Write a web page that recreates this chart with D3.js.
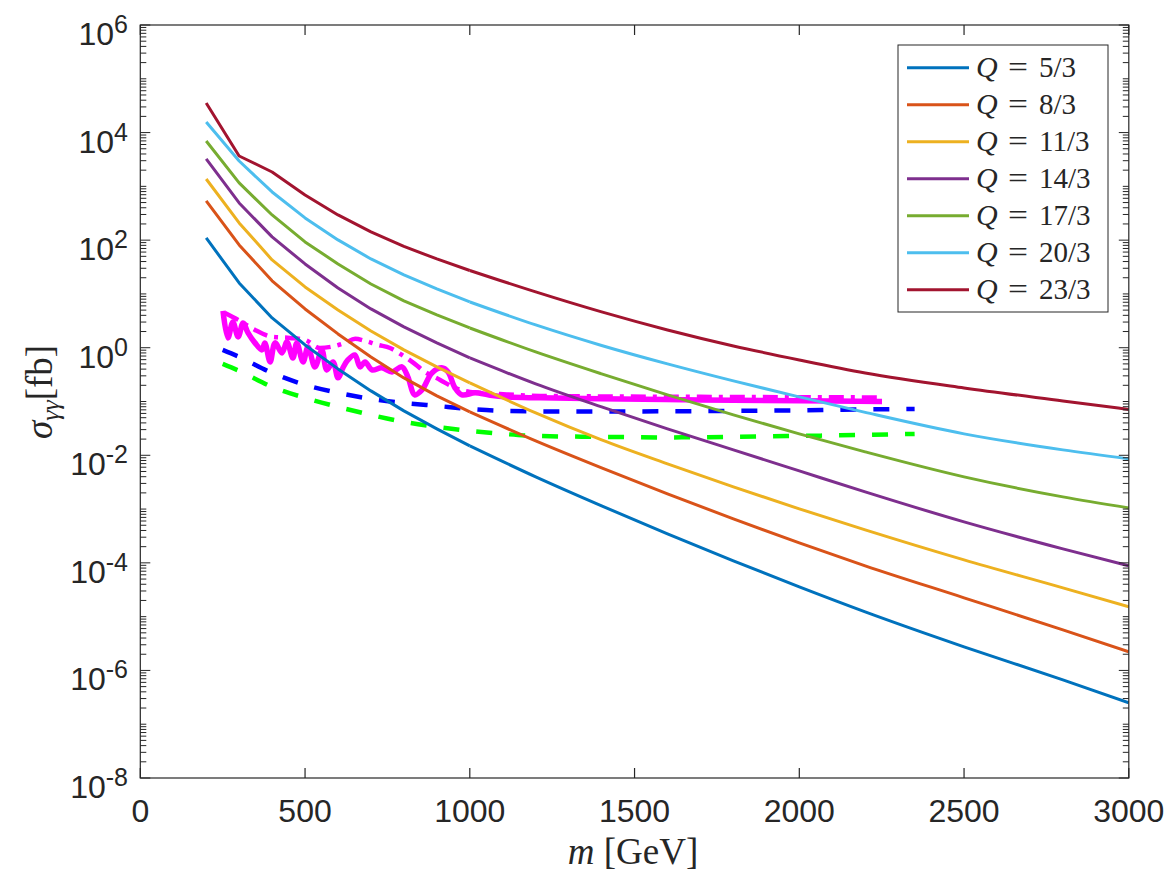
<!DOCTYPE html>
<html><head><meta charset="utf-8">
<script src="https://cdn.jsdelivr.net/npm/d3@7"></script>
<style>body{margin:0;background:#fff}</style>
</head><body>
<svg id="chart" width="1167" height="875"></svg>
<script>
// ---------- data ----------
const massGrid = [200,300,400,500,600,700,800,900,1000,1200,1400,1600,1800,2000,2200,2500,2800,3000];
const chargeLabels = ["5/3","8/3","11/3","14/3","17/3","20/3","23/3"];
const seriesColors = ["#0072BD","#D95319","#EDB120","#7E2F8E","#77AC30","#4DBEEE","#A2142F"];
const sigmaQ5  = [110,16.0,3.58,1.127,0.404,0.1574,0.0669,0.0310,0.01495,3.97e-3,1.147e-3,3.46e-4,1.090e-4,3.58e-5,1.228e-5,2.75e-6,6.69e-7,2.50e-7];
const sigmaQ8  = [536,81.5,17.5,5.26,1.805,0.675,0.2747,0.1271,0.0641,0.01852,5.83e-3,1.917e-3,6.57e-4,2.35e-4,8.80e-5,2.24e-5,5.68e-6,2.22e-6];
const sigmaQ11 = [1370,209,42.9,13.5,5.04,2.05,0.910,0.440,0.2217,0.0614,0.0193,6.92e-3,2.586e-3,1.009e-3,4.11e-4,1.137e-4,3.43e-5,1.52e-5];
const sigmaQ14 = [3230,491,115,36.1,12.9,5.26,2.44,1.23,0.646,0.2124,0.0793,0.0310,0.0126,5.13e-3,2.09e-3,5.78e-4,1.82e-4,8.80e-5];
const sigmaQ17 = [6980,1160,294,92.7,36.1,15.3,7.41,4.07,2.33,0.835,0.326,0.1327,0.0563,0.0250,0.01157,3.97e-3,1.686e-3,1.053e-3];
const sigmaQ20 = [15700,2960,787,259,101,44.7,22.6,12.4,7.10,2.65,1.10,0.500,0.2415,0.1218,0.0627,0.0250,0.0126,8.57e-3];
const sigmaQ23 = [35500,3670,1850,692,294,142,76.4,44.7,27.3,10.9,4.63,2.14,1.08,0.593,0.340,0.179,0.1026,0.0713];

const blueDashMass = [250,300,400,500,600,700,800,900,1000,1100,1200,1500,1800,2000,2200,2350];
const blueDashSigma = [0.910,0.675,0.340,0.204,0.145,0.112,0.0942,0.0828,0.0728,0.0668,0.0655,0.0655,0.0668,0.0684,0.0713,0.0728];
const greenDashMass = [250,300,400,500,600,700,800,900,1000,1100,1200,1400,1600,1800,2000,2200,2350];
const greenDashSigma = [0.500,0.371,0.187,0.117,0.0794,0.0564,0.0418,0.0337,0.0284,0.0250,0.0229,0.0220,0.0215,0.0220,0.0229,0.0239,0.0250];
const magDashDotMass = [257,297,348,400,454,500,545,591,621,652,682,721,758,794,825,864,910,955,1000,1091,1213,1699,2251];
const magDashDotSigma = [4.43,3.29,2.14,1.59,1.52,1.40,0.99,1.08,1.23,1.46,1.34,1.13,0.99,0.735,0.545,0.355,0.252,0.179,0.151,0.138,0.127,0.122,0.119];
const magSolidMass = [251,266,281,297,312,327,348,369,378,394,409,430,445,463,475,494,509,530,551,566,585,600,615,630,651,667,682,703,733,764,794,812,833,855,885,915,934,955,976,1016,1055,1107,1213,1395,1699,2002,2251];
const magSolidSigma = [4.83,1.52,3.02,1.59,2.89,1.88,1.23,0.91,1.23,0.545,1.23,0.80,1.28,0.646,1.23,0.545,1.03,0.44,0.91,0.386,0.545,0.275,0.422,0.593,0.735,0.44,0.545,0.386,0.422,0.355,0.44,0.287,0.133,0.164,0.34,0.422,0.355,0.179,0.133,0.145,0.133,0.122,0.117,0.112,0.107,0.103,0.100];

const xTicks = [0,500,1000,1500,2000,2500,3000];
const yTickExponents = [6,4,2,0,-2,-4,-6,-8];

// ---------- layout ----------
const svg = d3.select("#chart");
const L = 140.3, R = 1128.8, T = 25, B = 778;
const x = d3.scaleLinear().domain([0,3000]).range([L,R]);
const y = d3.scaleLog().domain([1e-8,1e6]).range([B,T]);
const axisColor = "#262626";
const sansFont = "'Liberation Sans', Arial, Helvetica, sans-serif";
const serifFont = "'Liberation Serif', 'DejaVu Serif', serif";

svg.append("defs").append("clipPath").attr("id","clip")
  .append("rect").attr("x",L).attr("y",T).attr("width",R-L).attr("height",B-T);

const series = [sigmaQ5,sigmaQ8,sigmaQ11,sigmaQ14,sigmaQ17,sigmaQ20,sigmaQ23];
const lineOf = (curve) => d3.line().x(d=>x(d[0])).y(d=>y(d[1])).curve(curve);
const zip = (a,b) => a.map((v,i)=>[v,b[i]]);

const g = svg.append("g").attr("clip-path","url(#clip)");

// limits
g.append("path").datum(zip(greenDashMass,greenDashSigma))
  .attr("d", lineOf(d3.curveMonotoneX)).attr("fill","none")
  .attr("stroke","#00FF00").attr("stroke-width",4.5).attr("stroke-dasharray","16,17");
g.append("path").datum(zip(blueDashMass,blueDashSigma))
  .attr("d", lineOf(d3.curveMonotoneX)).attr("fill","none")
  .attr("stroke","#0000FF").attr("stroke-width",4.5).attr("stroke-dasharray","16,17");
g.append("path").datum(zip(magDashDotMass,magDashDotSigma))
  .attr("d", lineOf(d3.curveMonotoneX)).attr("fill","none")
  .attr("stroke","#FF00FF").attr("stroke-width",4.5).attr("stroke-dasharray","15,7,4,7");
g.append("path").datum(zip(magSolidMass,magSolidSigma))
  .attr("d", lineOf(d3.curveCatmullRom.alpha(0.5))).attr("fill","none")
  .attr("stroke","#FF00FF").attr("stroke-width",5.5).attr("stroke-linejoin","round");

// cross-section curves: straight segments on the 100 GeV grid, smooth above 1 TeV
series.forEach((s,i)=>{
  const pts = zip(massGrid,s);
  const low = pts.filter(d=>d[0]<=1000), high = pts.filter(d=>d[0]>=1000);
  g.append("path").datum(low).attr("d", lineOf(d3.curveLinear)).attr("fill","none")
    .attr("stroke",seriesColors[i]).attr("stroke-width",3).attr("stroke-linejoin","round");
  g.append("path").datum(high).attr("d", lineOf(d3.curveMonotoneX)).attr("fill","none")
    .attr("stroke",seriesColors[i]).attr("stroke-width",3).attr("stroke-linejoin","round");
});

// ---------- axes ----------
const axG = svg.append("g");
axG.append("rect").attr("x",L).attr("y",T).attr("width",R-L).attr("height",B-T)
  .attr("fill","none").attr("stroke",axisColor).attr("stroke-width",1.2);

xTicks.forEach(t=>{
  axG.append("line").attr("x1",x(t)).attr("x2",x(t)).attr("y1",B).attr("y2",B-10).attr("stroke",axisColor).attr("stroke-width",1.2);
  axG.append("line").attr("x1",x(t)).attr("x2",x(t)).attr("y1",T).attr("y2",T+10).attr("stroke",axisColor).attr("stroke-width",1.2);
  axG.append("text").attr("x",x(t)).attr("y",B+44).attr("text-anchor","middle")
    .attr("font-family",sansFont).attr("font-size",32)
    .attr("fill",axisColor).text(d3.format("d")(t));
});

for (let k=-8;k<=6;k++){
  for (let m=1;m<=9;m++){
    const v = m*Math.pow(10,k);
    if (v>1e6) break;
    const major = (m===1 && k%2===0);
    const len = major?10:6;
    const yy = y(v);
    axG.append("line").attr("x1",L).attr("x2",L+len).attr("y1",yy).attr("y2",yy).attr("stroke",axisColor).attr("stroke-width",1);
    axG.append("line").attr("x1",R).attr("x2",R-len).attr("y1",yy).attr("y2",yy).attr("stroke",axisColor).attr("stroke-width",1);
  }
}
yTickExponents.forEach(e=>{
  const t = axG.append("text").attr("x",128).attr("y",y(Math.pow(10,e))+20)
    .attr("text-anchor","end").attr("font-family",sansFont)
    .attr("font-size",32).attr("fill",axisColor);
  t.append("tspan").text("10");
  t.append("tspan").attr("dy",-12).attr("font-size",25).text(String(e));
});

// axis labels
const xl = svg.append("text").attr("x",633).attr("y",864).attr("text-anchor","middle")
  .attr("font-family",serifFont).attr("font-size",37).attr("fill",axisColor);
xl.append("tspan").attr("font-style","italic").text("m");
xl.append("tspan").text(" [GeV]");

const yl = svg.append("text").attr("transform","translate(52,392) rotate(-90)").attr("text-anchor","middle")
  .attr("font-family",serifFont).attr("font-size",37).attr("fill",axisColor);
yl.append("tspan").attr("font-style","italic").text("σ");
yl.append("tspan").attr("font-style","italic").attr("font-size",26).attr("dy",7).text("γγ");
yl.append("tspan").attr("dy",-7).text("[fb]");

// ---------- legend ----------
const lg = svg.append("g");
lg.append("rect").attr("x",898).attr("y",45).attr("width",210).attr("height",267)
  .attr("fill","#fff").attr("stroke",axisColor).attr("stroke-width",1);
chargeLabels.forEach((lab,i)=>{
  const yy = 67.7 + 37*i;
  lg.append("line").attr("x1",907).attr("x2",969).attr("y1",yy).attr("y2",yy)
    .attr("stroke",seriesColors[i]).attr("stroke-width",3);
  lg.append("text").attr("x",976).attr("y",yy+9).attr("font-family",serifFont)
    .attr("font-size",30).attr("font-style","italic").attr("fill",axisColor).text("Q");
  lg.append("text").attr("x",1008).attr("y",yy+9).attr("font-family",serifFont)
    .attr("font-size",30).attr("fill",axisColor)
    .attr("textLength",20).attr("lengthAdjust","spacingAndGlyphs").text("=");
  lg.append("text").attr("x",1039).attr("y",yy+9).attr("font-family",serifFont)
    .attr("font-size",29).attr("fill",axisColor).text(lab);
});
</script>
</body></html>
